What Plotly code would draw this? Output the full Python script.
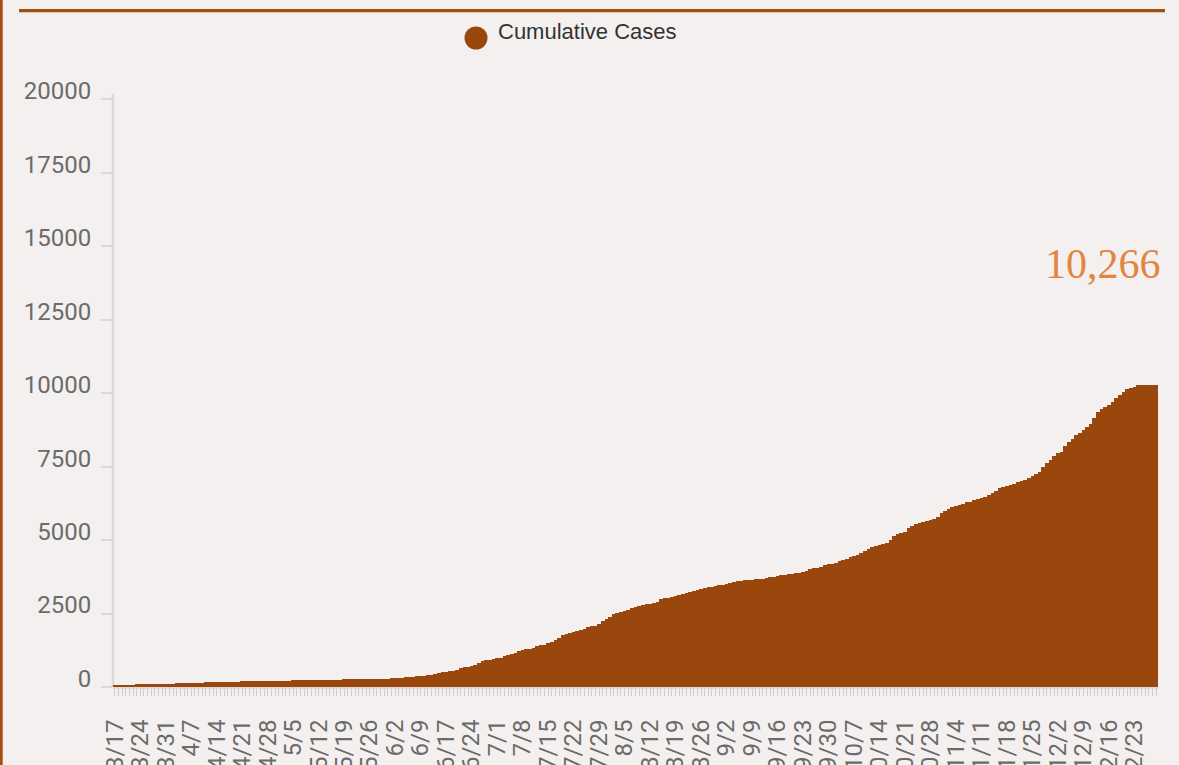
import pandas as pd
import plotly.graph_objects as go

# ---- data -------------------------------------------------------------
# daily categories 3/17 .. 12/29 (one June date absent in the source axis)
_all_days = pd.date_range("2020-03-17", "2020-12-29", freq="D")
_all_days = _all_days[_all_days != pd.Timestamp("2020-06-14")]
categories = [f"{d.month}/{d.day}" for d in _all_days]

cases_mar = [70, 74, 78, 80, 83, 85, 88, 90, 93, 95, 98, 100, 103, 106, 110]
cases_apr = [114, 118, 122, 126, 130, 134, 138, 142, 146, 150, 154, 158, 162, 166, 170,
             173, 176, 179, 182, 185, 188, 190, 193, 195, 198, 200, 203, 205, 208, 210]
cases_may = [212, 215, 218, 220, 223, 225, 228, 230, 233, 235, 238, 240, 243, 245, 248,
             250, 252, 255, 257, 260, 262, 265, 267, 270, 272, 275, 277, 280, 283, 286, 289]
cases_jun = [292, 295, 305, 318, 330, 340, 351, 362, 375, 390, 400, 415, 432, 475, 500,
             522, 540, 555, 580, 630, 670, 690, 710, 760, 827, 870, 910, 930, 950]
cases_jul = [976, 1000, 1055, 1090, 1120, 1146, 1220, 1259, 1290, 1310, 1340, 1395, 1420, 1440, 1487,
             1540, 1600, 1680, 1760, 1810, 1840, 1870, 1890, 1930, 1990, 2032, 2060, 2090, 2144, 2240, 2300]
cases_aug = [2380, 2470, 2520, 2560, 2597, 2630, 2690, 2720, 2756, 2780, 2810, 2840, 2869, 2900, 2990,
             3018, 3040, 3070, 3110, 3140, 3170, 3210, 3240, 3270, 3301, 3330, 3360, 3390, 3415, 3437, 3460]
cases_sep = [3480, 3510, 3549, 3570, 3600, 3610, 3630, 3641, 3645, 3660, 3675, 3690, 3720, 3740, 3760,
             3777, 3800, 3820, 3840, 3860, 3875, 3890, 3920, 3960, 4000, 4039, 4060, 4100, 4140, 4170]
cases_oct = [4186, 4230, 4280, 4320, 4356, 4420, 4460, 4492, 4560, 4620, 4700, 4774, 4800, 4830, 4860,
             4890, 5000, 5150, 5207, 5250, 5286, 5400, 5479, 5540, 5580, 5604, 5640, 5680, 5706, 5800, 5910]
cases_nov = [6000, 6070, 6136, 6170, 6200, 6240, 6280, 6306, 6360, 6400, 6440, 6480, 6534, 6600, 6680,
             6762, 6796, 6830, 6870, 6898, 6960, 7000, 7044, 7100, 7170, 7250, 7327, 7500, 7620, 7725]
cases_dec = [7850, 7950, 8008, 8200, 8348, 8450, 8560, 8654, 8750, 8850, 8950, 9150, 9369, 9450, 9520,
             9597, 9700, 9825, 9950, 10052, 10130, 10190, 10222, 10266, 10266, 10266, 10266, 10266, 10266]

cumulative_cases = (cases_mar + cases_apr + cases_may + cases_jun + cases_jul + cases_aug
                    + cases_sep + cases_oct + cases_nov + cases_dec)
n = min(len(categories), len(cumulative_cases))
categories = categories[:n]
cumulative_cases = cumulative_cases[:n]

tick_labels = categories[::7]
y_ticks = [0, 2500, 5000, 7500, 10000, 12500, 15000, 17500, 20000]
latest_label = "10,266"
series_name = "Cumulative Cases"

# ---- style ------------------------------------------------------------
BG = "#f4f0ef"
BAR = "#99470d"
ACCENT = "#a34f12"
ORANGE = "#e3843f"
AXIS = "#dcd8d7"
W, H = 1179, 765
L, R, T, B = 113, 1158, 80, 687     # plot area in pixels
Y20K = 99.3                          # pixel row of the 20000 tick
UNIT = 20000 / (B - Y20K)            # value per pixel
YMAX = (B - T) * UNIT
LABEL_LIFT = 8.5 * UNIT              # tick labels sit slightly above their ticks


def px(x):
    return (x - L) / (R - L)


def py(y):
    return (B - y) / (B - T)


fig = go.Figure()
fig.add_trace(go.Bar(
    x=categories, y=cumulative_cases, name=series_name,
    marker=dict(color=BAR, line=dict(width=0)),
    showlegend=False,
))
# empty companion trace so the label axis is drawn
fig.add_trace(go.Scatter(x=[categories[0]], y=[None], yaxis="y2",
                         showlegend=False, hoverinfo="skip", mode="markers"))

fig.update_layout(
    width=W, height=H,
    paper_bgcolor=BG, plot_bgcolor=BG,
    margin=dict(l=L, r=W - R, t=T, b=H - B, pad=0),
    bargap=0,
    showlegend=False,
    font=dict(family="Roboto", color="#666666"),
    xaxis=dict(
        type="category",
        tickmode="array",
        tickvals=categories,
        ticktext=[c if c in tick_labels else "" for c in categories],
        tickangle=-90,
        ticks="outside", ticklen=7, tickwidth=1, tickcolor="#cccccc",
        tickfont=dict(family="Roboto", size=24, color="#6b6b6b"),
        ticklabelstandoff=14,
        showline=True, linecolor=AXIS, linewidth=2,
        showgrid=False, zeroline=False, automargin=False,
        range=[-0.5, n - 0.5],
    ),
    yaxis=dict(
        range=[0, YMAX],
        tickmode="array", tickvals=y_ticks,
        ticks="outside", ticklen=11, tickwidth=2, tickcolor=AXIS,
        showticklabels=False,
        showline=False, showgrid=False, zeroline=False, automargin=False,
    ),
    yaxis2=dict(
        overlaying="y", side="left", anchor="x",
        range=[-LABEL_LIFT, YMAX - LABEL_LIFT],
        tickmode="array", tickvals=y_ticks, tickformat="d",
        ticks="outside", ticklen=11, tickcolor="rgba(0,0,0,0)",
        tickfont=dict(family="Roboto", size=24, color="#6b6b6b"),
        ticklabelstandoff=5,
        showline=False, showgrid=False, zeroline=False, automargin=False,
    ),
)

shapes = [
    # y axis line
    dict(type="line", xref="paper", yref="paper", layer="below",
         x0=0, x1=0, y0=0, y1=py(94),
         line=dict(color=AXIS, width=2.5)),
    # top rule
    dict(type="line", xref="paper", yref="paper",
         x0=px(19), x1=px(1165), y0=py(10.6), y1=py(10.6),
         line=dict(color=ACCENT, width=3.3)),
    # left border
    dict(type="line", xref="paper", yref="paper",
         x0=px(1.3), x1=px(1.3), y0=py(0), y1=py(H),
         line=dict(color=ACCENT, width=2.8)),
    # legend marker
    dict(type="circle", xref="paper", yref="paper",
         x0=px(464.5), x1=px(487.5), y0=py(49.5), y1=py(26.5),
         fillcolor=BAR, line=dict(color=BAR, width=0)),
]
fig.update_layout(shapes=shapes)

fig.add_annotation(
    xref="paper", yref="paper", x=px(496), y=py(31),
    text=series_name, showarrow=False, xanchor="left", yanchor="middle",
    font=dict(family="Liberation Sans", size=22, color="#333333"),
)
fig.add_annotation(
    xref="paper", yref="paper", x=px(1163), y=py(263.5),
    text=latest_label, showarrow=False, xanchor="right", yanchor="middle",
    font=dict(family="Liberation Serif", size=42, color=ORANGE),
)

fig.write_html(
    "out.html",
    config={"displayModeBar": False},
    post_script="document.body.style.margin='0';document.body.style.overflow='hidden';",
)
